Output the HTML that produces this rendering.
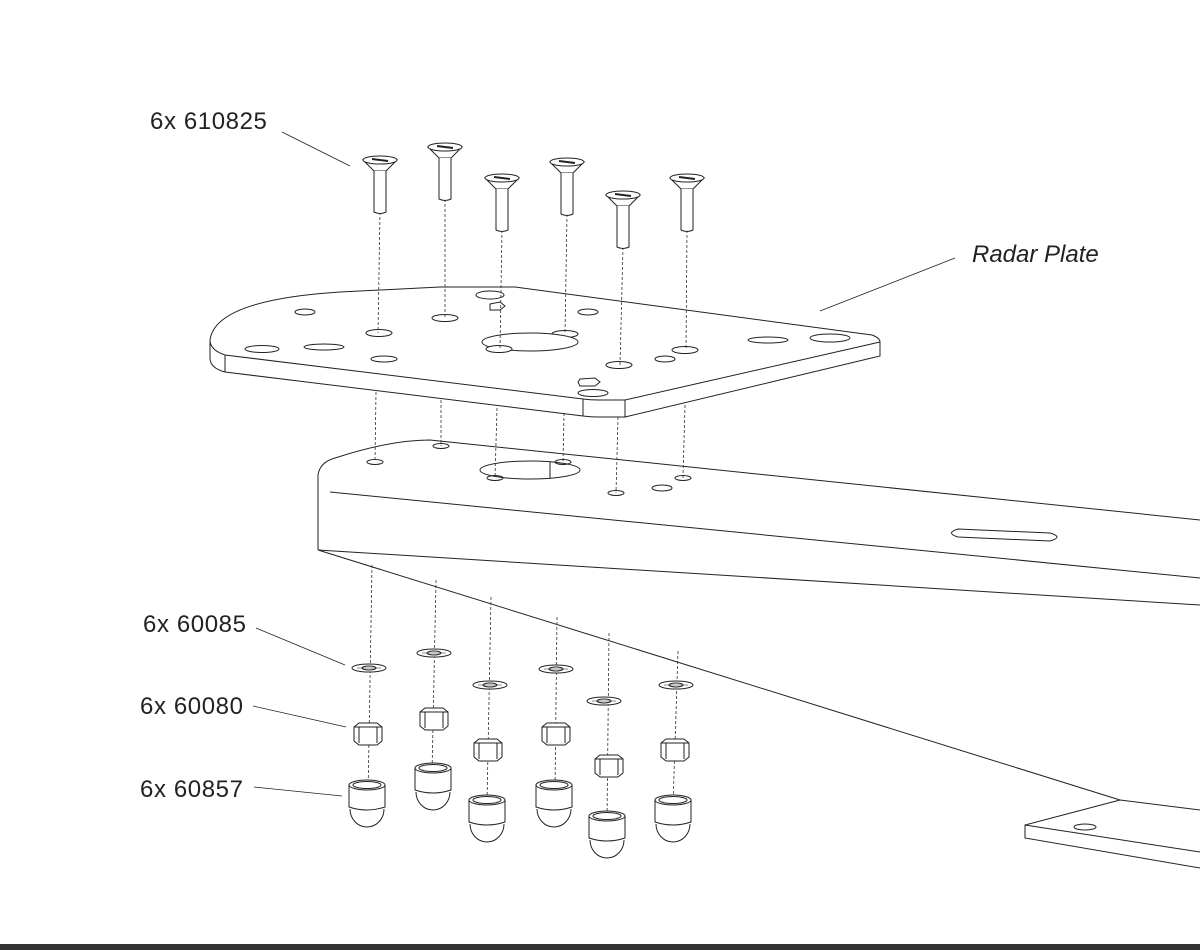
<!DOCTYPE html>
<html><head><meta charset="utf-8"><style>
html,body{margin:0;padding:0;background:#fff}
svg{display:block}
text{font-family:"Liberation Sans",sans-serif;fill:#222}
</style></head><body>
<svg width="1200" height="950" viewBox="0 0 1200 950" xmlns="http://www.w3.org/2000/svg">
<defs>
<g id="screw" fill="#fff" stroke="#222" stroke-width="1">
  <path d="M-17,0 L-6,11 L6,11 L17,0 Z"/>
  <ellipse cx="0" cy="0" rx="17" ry="4"/>
  <path d="M-6,11 L-6,52 Q0,55 6,52 L6,11"/>
  <line x1="-8" y1="-1" x2="8" y2="1" stroke-width="2"/>
</g>
<g id="washer" fill="#fff" stroke="#222" stroke-width="1">
  <ellipse cx="0" cy="0" rx="17" ry="4"/>
  <ellipse cx="0" cy="0" rx="7" ry="2"/>
  <line x1="-12" y1="0" x2="12" y2="0" stroke-width="0.6"/>
</g>
<g id="nut" fill="#fff" stroke="#222" stroke-width="1">
  <path d="M-14,-6 L-9,-10 L9,-10 L14,-6 L14,8 L9,12 L-9,12 L-14,8 Z"/>
  <line x1="-9" y1="-6" x2="-9" y2="10"/><line x1="9" y1="-6" x2="9" y2="10"/>
  <line x1="-14" y1="-6" x2="14" y2="-6"/>
</g>
<g id="cap" fill="#fff" stroke="#222" stroke-width="1">
  <path d="M-17,16 A17,18 0 0 0 17,16"/>
  <path d="M-18,-8 L-18,14 Q0,20 18,14 L18,-8"/>
  <ellipse cx="0" cy="-8" rx="18" ry="5"/>
  <ellipse cx="0" cy="-8" rx="14" ry="3.5"/>
</g>
</defs>

<g fill="none" stroke="#222" stroke-width="1">
  <path d="M318,550 L318,475 Q320,462 335,458 Q390,440 430,440 L1200,520"/>
  <path d="M330,492 L1200,578"/>
  <path d="M318,550 L1200,605"/>
  <path d="M318,550 L1120,800"/>
  <path d="M1120,800 L1025,825 L1025,838 L1200,868"/>
  <path d="M1025,825 L1200,852"/>
  <path d="M1120,800 L1200,810"/>
  <ellipse cx="1085" cy="827" rx="11" ry="3"/>
  <path d="M958,529 L1050,533 Q1064,537 1050,541 L958,537 Q945,533 958,529 Z"/>
  <ellipse cx="375" cy="462" rx="8" ry="2.5"/>
  <ellipse cx="441" cy="446" rx="8" ry="2.5"/>
  <ellipse cx="495" cy="478" rx="8" ry="2.5"/>
  <ellipse cx="563" cy="462" rx="8" ry="2.5"/>
  <ellipse cx="616" cy="493" rx="8" ry="2.5"/>
  <ellipse cx="683" cy="478" rx="8" ry="2.5"/>
  <ellipse cx="662" cy="488" rx="10" ry="3"/>
  <ellipse cx="530" cy="470" rx="50" ry="9"/>
  <line x1="550" y1="462" x2="550" y2="478"/>
</g>

<g fill="#fff" stroke="#222" stroke-width="1">
  <path d="M210,340 Q215,300 340,292 Q420,288 440,287 L515,287 L872,335 Q880,338 880,342 L880,356 L625,417 L598,417 Q590,417 583,416 L225,372 Q210,368 210,358 Z"/>
  <path d="M210,340 Q210,350 225,355 L583,399 Q590,400 598,400 L625,400 L880,342" fill="none"/>
  <line x1="225" y1="355" x2="225" y2="372"/>
  <line x1="583" y1="399" x2="583" y2="416"/>
  <line x1="625" y1="400" x2="625" y2="417"/>
  <ellipse cx="305" cy="312" rx="10" ry="3"/>
  <ellipse cx="445" cy="318" rx="13" ry="3.5"/>
  <ellipse cx="379" cy="333" rx="13" ry="3.5"/>
  <ellipse cx="490" cy="295" rx="14" ry="4"/>
  <path d="M490,304 L500,302 L505,306 L500,310 L490,310 Z"/>
  <ellipse cx="588" cy="312" rx="10" ry="3"/>
  <ellipse cx="565" cy="334" rx="13" ry="3.5"/>
  <ellipse cx="530" cy="342" rx="48" ry="9"/>
  <ellipse cx="499" cy="349" rx="13" ry="3.5"/>
  <ellipse cx="262" cy="349" rx="17" ry="3.5"/>
  <ellipse cx="324" cy="347" rx="20" ry="3"/>
  <ellipse cx="384" cy="359" rx="13" ry="3"/>
  <ellipse cx="685" cy="350" rx="13" ry="3.5"/>
  <ellipse cx="665" cy="359" rx="10" ry="3"/>
  <ellipse cx="619" cy="365" rx="13" ry="3.5"/>
  <ellipse cx="768" cy="340" rx="20" ry="3"/>
  <ellipse cx="830" cy="338" rx="20" ry="4"/>
  <path d="M580,379 L595,378 L600,382 L595,386 L580,386 L578,382 Z"/>
  <ellipse cx="593" cy="393" rx="15" ry="3.5"/>
</g>

<g stroke="#333" stroke-width="0.8" stroke-dasharray="3,2" fill="none">
  <line x1="380" y1="212" x2="378" y2="333"/><line x1="376" y1="392" x2="375" y2="462"/>
  <line x1="445" y1="199" x2="445" y2="318"/><line x1="441" y1="400" x2="441" y2="446"/>
  <line x1="502" y1="230" x2="500" y2="349"/><line x1="497" y1="408" x2="495" y2="478"/>
  <line x1="567" y1="214" x2="565" y2="334"/><line x1="564" y1="413" x2="563" y2="462"/>
  <line x1="623" y1="247" x2="620" y2="365"/><line x1="618" y1="417" x2="616" y2="493"/>
  <line x1="687" y1="230" x2="686" y2="350"/><line x1="685" y1="405" x2="683" y2="478"/>
  <line x1="372" y1="565" x2="368" y2="797"/>
  <line x1="436" y1="580" x2="432" y2="773"/>
  <line x1="491" y1="597" x2="487" y2="803"/>
  <line x1="557" y1="617" x2="555" y2="790"/>
  <line x1="609" y1="633" x2="607" y2="821"/>
  <line x1="678" y1="651" x2="673" y2="805"/>
</g>

<use href="#screw" x="380" y="160"/>
<use href="#screw" x="445" y="147"/>
<use href="#screw" x="502" y="178"/>
<use href="#screw" x="567" y="162"/>
<use href="#screw" x="623" y="195"/>
<use href="#screw" x="687" y="178"/>

<use href="#washer" x="369" y="668"/><use href="#washer" x="434" y="653"/><use href="#washer" x="490" y="685"/>
<use href="#washer" x="556" y="669"/><use href="#washer" x="604" y="701"/><use href="#washer" x="676" y="685"/>
<use href="#nut" x="368" y="733"/><use href="#nut" x="434" y="718"/><use href="#nut" x="488" y="749"/>
<use href="#nut" x="556" y="733"/><use href="#nut" x="609" y="765"/><use href="#nut" x="675" y="749"/>
<use href="#cap" x="367" y="793"/><use href="#cap" x="433" y="776"/><use href="#cap" x="487" y="808"/>
<use href="#cap" x="554" y="793"/><use href="#cap" x="607" y="824"/><use href="#cap" x="673" y="808"/>

<g stroke="#222" stroke-width="0.8">
  <line x1="282" y1="132" x2="350" y2="166"/>
  <line x1="955" y1="258" x2="820" y2="311"/>
  <line x1="256" y1="628" x2="345" y2="665"/>
  <line x1="253" y1="706" x2="346" y2="727"/>
  <line x1="254" y1="787" x2="342" y2="796"/>
</g>
<text x="150" y="129" font-size="24" letter-spacing="0.6">6x 610825</text>
<text x="972" y="262" font-size="24" font-style="italic">Radar Plate</text>
<text x="143" y="632" font-size="24" letter-spacing="0.6">6x 60085</text>
<text x="140" y="714" font-size="24" letter-spacing="0.6">6x 60080</text>
<text x="140" y="797" font-size="24" letter-spacing="0.6">6x 60857</text>

<rect x="0" y="944" width="1200" height="6" fill="#333"/>
</svg>
</body></html>
